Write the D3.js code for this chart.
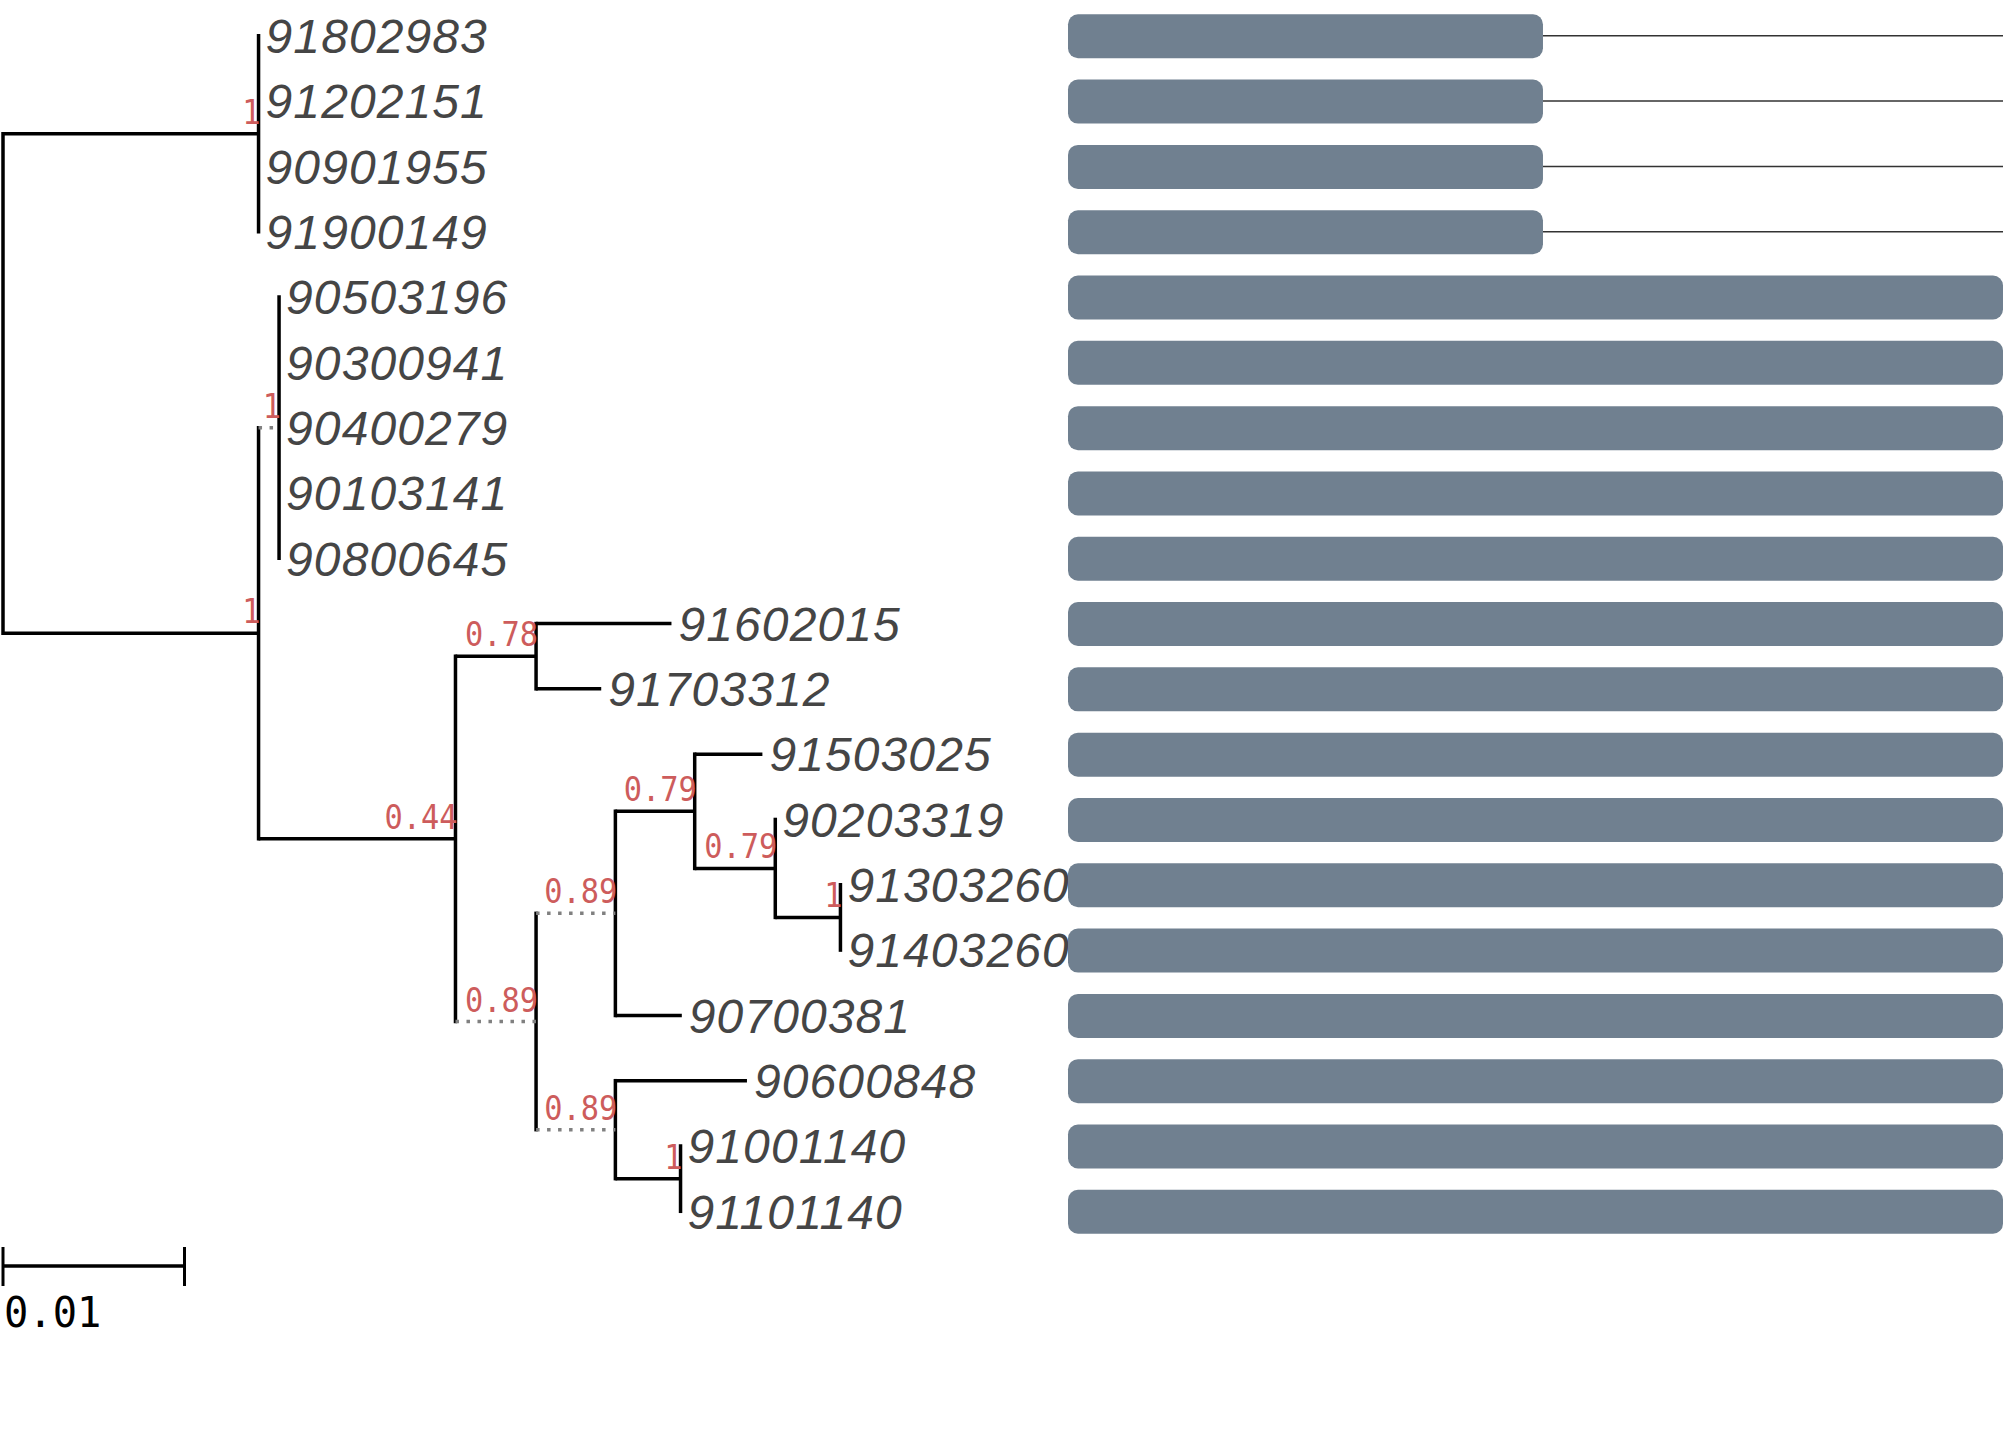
<!DOCTYPE html>
<html>
<head>
<meta charset="utf-8">
<script src="https://cdn.jsdelivr.net/npm/d3@7"></script>
<style>
  html, body { margin: 0; padding: 0; background: #fff; }
</style>
</head>
<body>
<svg id="chart" width="2007" height="1429"></svg>
<script>
// ---------- data ----------
// tree edges: parent, child, branch length
const edgeParents  = ["", "root","A","A","A","A","root","B","C","C","C","C","C","B","D","E","E","D","F","G","I","I","J","J","K","K","G","F","H","H","L","L"];
const edgeChildren = ["root","A","91802983","91202151","90901955","91900149","B","C","90503196","90300941","90400279","90103141","90800645","D","E","91602015","91703312","F","G","I","91503025","J","90203319","K","91303260","91403260","90700381","H","90600848","L","91001140","91101140"];
const edgeLengths  = [0, 0.01408, 0, 0, 0, 0, 0.01408, 0.00113, 0, 0, 0, 0, 0, 0.01085, 0.00444, 0.00746, 0.00359, 0.00444, 0.00437, 0.00437, 0.00373, 0.00444, 0, 0.00359, 0, 0, 0.00366, 0.00437, 0.00725, 0.00359, 0, 0];
// branches drawn dotted
const edgeDotted   = ["B->C", "D->F", "F->G", "F->H"];
// node support values
const supportNodes  = ["A","B","C","D","E","F","G","H","I","J","K","L"];
const supportValues = ["1","1","1","0.44","0.78","0.89","0.89","0.89","0.79","0.79","1","1"];
// aligned sequence coverage per tip (tips in tree order)
const alignLength = 1000;
const coverageTips = ["91802983","91202151","90901955","91900149","90503196","90300941","90400279","90103141","90800645","91602015","91703312","91503025","90203319","91303260","91403260","90700381","90600848","91001140","91101140"];
const coverageEnd  = [508,508,508,508,1000,1000,1000,1000,1000,1000,1000,1000,1000,1000,1000,1000,1000,1000,1000];
const scaleBarValue = 0.01;
const scaleBarLabel = "0.01";

// ---------- layout ----------
const svg = d3.select("#chart");
svg.append("rect").attr("width", 2007).attr("height", 1429).attr("fill", "#fff");

const rows = edgeChildren.map((c, i) => ({ id: c, parentId: edgeParents[i] || null, len: edgeLengths[i] }));
const root = d3.stratify().id(d => d.id).parentId(d => d.parentId)(rows);

root.eachBefore(n => { n.dist = n.parent ? n.parent.dist + n.data.len : 0; });

const x = d3.scaleLinear().domain([0, 0.01]).range([3, 184.5]);
const leaves = root.leaves();
const y = d3.scaleLinear().domain([0, leaves.length - 1]).range([35.8, 1211.3]);
leaves.forEach((l, i) => { l.yPos = y(i); });
root.eachAfter(n => {
  if (n.children) n.yPos = d3.mean(n.children, c => c.yPos);
});

const dotted = new Set(edgeDotted);
const g = svg.append("g");

// vertical connectors
root.each(n => {
  if (!n.children) return;
  const ys = n.children.map(c => c.yPos);
  g.append("line")
    .attr("x1", x(n.dist)).attr("x2", x(n.dist))
    .attr("y1", d3.min(ys) - 1.75).attr("y2", d3.max(ys) + 1.75)
    .attr("stroke", "#000").attr("stroke-width", 3.5);
});
// horizontal branches
root.each(n => {
  if (!n.parent) return;
  if (n.data.len === 0) return;
  const isDot = dotted.has(n.parent.id + "->" + n.id);
  g.append("line")
    .attr("x1", x(n.parent.dist)).attr("x2", x(n.dist))
    .attr("y1", n.yPos).attr("y2", n.yPos)
    .attr("stroke", isDot ? "#808080" : "#000")
    .attr("stroke-width", 3.5)
    .attr("stroke-dasharray", isDot ? "3.5,7.5" : null);
});

// support labels
const nodeById = new Map(root.descendants().map(n => [n.id, n]));
supportNodes.forEach((id, i) => {
  const n = nodeById.get(id);
  g.append("text")
    .attr("transform", `translate(${x(n.dist) + 2},${n.yPos - 10}) scale(0.92,1)`)
    .attr("text-anchor", "end")
    .attr("font-family", "'DejaVu Sans Mono', monospace")
    .attr("font-size", 33)
    .attr("fill", "#cd5c5c")
    .text(supportValues[i]);
});

// tip labels
leaves.forEach(l => {
  g.append("text")
    .attr("x", x(l.dist) + 7)
    .attr("y", l.yPos)
    .attr("dy", "0.36em")
    .attr("font-family", "'Liberation Sans', Arial, sans-serif")
    .attr("font-style", "italic")
    .attr("font-size", 48)
    .attr("letter-spacing", 1.1)
    .attr("fill", "#454545")
    .text(l.id);
});

// coverage bars
const bx = d3.scaleLinear().domain([0, alignLength]).range([1068, 2003]);
const barH = 44;
const bars = svg.append("g");
coverageTips.forEach((t, i) => {
  const l = nodeById.get(t);
  const end = coverageEnd[i];
  if (end < alignLength) {
    bars.append("line")
      .attr("x1", bx(end)).attr("x2", bx(alignLength))
      .attr("y1", l.yPos).attr("y2", l.yPos)
      .attr("stroke", "#333").attr("stroke-width", 1.5);
  }
  bars.append("rect")
    .attr("x", bx(0)).attr("y", l.yPos - barH / 2 + 0.5)
    .attr("width", bx(end) - bx(0)).attr("height", barH)
    .attr("rx", 10).attr("ry", 10)
    .attr("fill", "#708090");
});

// scale bar
const sb = svg.append("g");
const sbY = 1266;
sb.append("line").attr("x1", x(0)).attr("x2", x(scaleBarValue)).attr("y1", sbY).attr("y2", sbY)
  .attr("stroke", "#000").attr("stroke-width", 3.5);
[0, scaleBarValue].forEach(v => {
  sb.append("line").attr("x1", x(v)).attr("x2", x(v)).attr("y1", sbY - 19).attr("y2", sbY + 20)
    .attr("stroke", "#000").attr("stroke-width", 3);
});
sb.append("text")
  .attr("transform", `translate(${x(0) + 1},1327) scale(0.94,1)`)
  .attr("font-family", "'DejaVu Sans Mono', monospace").attr("font-size", 43)
  .attr("fill", "#000").text(scaleBarLabel);
</script>
</body>
</html>
